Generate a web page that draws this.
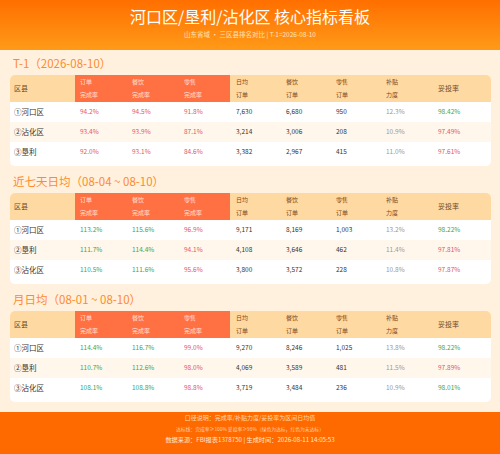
<!DOCTYPE html>
<html><head><meta charset="utf-8">
<script src="https://cdn.jsdelivr.net/npm/chart.js@4"></script>
<style>
body{margin:0;width:500px;height:454px;overflow:hidden;background:#fff1de;font-family:"Noto Sans CJK SC","Noto Sans",sans-serif;position:relative}
.hdr{position:absolute;left:0;top:0;width:500px;height:50px;background:linear-gradient(180deg,#ff6f00,#ff9a18)}
.t{position:absolute;white-space:nowrap}
.card{position:absolute;left:10px;width:481px;height:91px;background:#fff;border-radius:5px;overflow:hidden}
.cell{position:absolute;white-space:nowrap;font-size:6px;line-height:13px}
.foot{position:absolute;left:0;top:412px;width:500px;height:42px;background:#ff6a00}
</style></head><body>
<div class="hdr"></div>
<div class="t" style="left:0;width:500px;text-align:center;top:4px;font-size:16px;color:#fff;font-weight:normal">河口区/垦利/沾化区 核心指标看板</div>
<div class="t" style="left:0;width:500px;text-align:center;top:29px;font-size:6.5px;color:#ffe2bf">山东省域 · 三区县排名对比 | T-1=2026-08-10</div>
<div id="root"></div>
<div class="foot"></div>
<div class="t" style="left:0;width:500px;text-align:center;top:413px;font-size:6px;color:#ffd7b0">口径说明：完成率/补贴力度/妥投率为区间日均值</div>
<div class="t" style="left:0;width:500px;text-align:center;top:425px;font-size:4.8px;color:#ffd0a6">达标线：完成率≥100% 妥投率≥98%（绿色为达标，红色为未达标）</div>
<div class="t" style="left:0;width:500px;text-align:center;top:435px;font-size:6.2px;color:#ffe6cc">数据来源：FBI报表1378750 | 生成时间：2026-08-11 14:05:53</div>
<script>
const sectionTitles=["T-1（2026-08-10）","近七天日均（08-04 ~ 08-10）","月日均（08-01 ~ 08-10）"];
const headerTop=["区县","订单","餐饮","零售","日均","餐饮","零售","补贴","妥投率"];
const headerBottom=["","完成率","完成率","完成率","订单","订单","订单","力度",""];
const districts=[["①河口区","②沾化区","③垦利"],["①河口区","②垦利","③沾化区"],["①河口区","②垦利","③沾化区"]];
const orderRate=[[94.2,93.4,92.0],[113.2,111.7,110.5],[114.4,110.7,108.1]];
const foodRate=[[94.5,93.9,93.1],[115.6,114.4,111.6],[116.7,112.6,108.8]];
const retailRate=[[91.8,87.1,84.6],[96.9,94.1,95.6],[99.0,98.0,98.8]];
const dailyOrders=[[7630,3214,3382],[9171,4108,3800],[9270,4069,3719]];
const foodOrders=[[6680,3006,2967],[8169,3646,3572],[8246,3589,3484]];
const retailOrders=[[950,208,415],[1003,462,228],[1025,481,236]];
const subsidy=[[12.3,10.9,11.0],[13.2,11.4,10.8],[13.8,11.5,10.9]];
const delivery=[[98.42,97.49,97.61],[98.22,97.81,97.87],[98.22,97.89,98.01]];

const colX=[4,70,122,174,226,276,326,376,428];
const titleY=[55,173,291], cardY=[75,193,311];
const G="#3aa84a", R="#e0566a";
const root=document.getElementById('root');
function add(html){root.insertAdjacentHTML('beforeend',html);}
const fmt=n=>n.toLocaleString('en-US');
for(let s=0;s<3;s++){
  add(`<div class="t" style="left:13px;top:${titleY[s]}px;font-size:11.5px;color:#ff8a2c">${sectionTitles[s]}</div>`);
  let h=`<div class="card" style="top:${cardY[s]}px">`;
  h+=`<div style="position:absolute;left:0;top:0;width:481px;height:27px;background:#ffd9a2"></div>`;
  h+=`<div style="position:absolute;left:65px;top:0;width:155px;height:27px;background:#ff7043"></div>`;
  h+=`<div style="position:absolute;left:0;top:47px;width:481px;height:20px;background:#fff7ec"></div>`;
  for(let c=0;c<9;c++){
    const col=(c>=1&&c<=3)?"#ffe0d0":"#7a4a1a";
    if(headerBottom[c]===""){
      h+=`<div class="cell" style="left:${colX[c]}px;top:7px;font-size:7px;color:#6b4a2a">${headerTop[c]}</div>`;
    }else{
      h+=`<div class="cell" style="left:${colX[c]}px;top:0px;color:${col}">${headerTop[c]}</div>`;
      h+=`<div class="cell" style="left:${colX[c]}px;top:13px;color:${col}">${headerBottom[c]}</div>`;
    }
  }
  for(let r=0;r<3;r++){
    const y=30+r*20;
    const vals=[
      [districts[s][r],"#333",7.5],
      [orderRate[s][r].toFixed(1)+"%",orderRate[s][r]>=100?G:R,6.5],
      [foodRate[s][r].toFixed(1)+"%",foodRate[s][r]>=100?G:R,6.5],
      [retailRate[s][r].toFixed(1)+"%",retailRate[s][r]>=100?G:R,6.5],
      [fmt(dailyOrders[s][r]),"#333",6.5],
      [fmt(foodOrders[s][r]),"#333",6.5],
      [fmt(retailOrders[s][r]),"#333",6.5],
      [subsidy[s][r].toFixed(1)+"%","#999",6.5],
      [delivery[s][r].toFixed(2)+"%",delivery[s][r]>=98?G:R,6.5]];
    vals.forEach((v,c)=>{h+=`<div class="cell" style="left:${colX[c]}px;top:${y}px;color:${v[1]};font-size:${v[2]}px">${v[0]}</div>`;});
  }
  h+=`</div>`;
  add(h);
}
</script>
</body></html>
